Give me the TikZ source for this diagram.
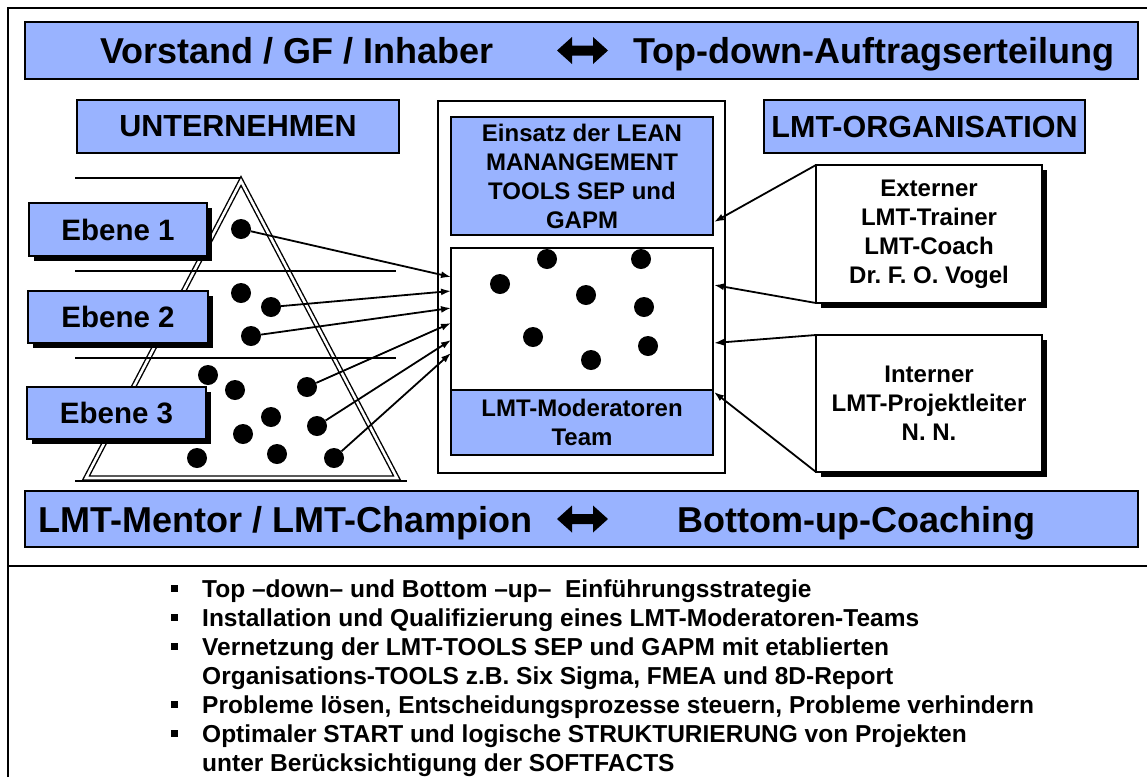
\documentclass[tikz,border=0pt]{standalone}
\usepackage{fontspec}
\setmainfont{Liberation Sans}
\usetikzlibrary{arrows.meta,shadows}
\definecolor{lmtblue}{RGB}{153,179,255}
\begin{document}
\frenchspacing
\begin{tikzpicture}[x=1pt,y=-1pt,line join=miter,
  bluebox/.style={draw=black,line width=2pt,fill=lmtblue,inner sep=0pt,outer sep=0pt,align=center},
  whitebox/.style={draw=black,line width=2pt,fill=white,inner sep=0pt,outer sep=0pt,align=center},
  shadowed/.style={drop shadow={shadow xshift=5pt,shadow yshift=-5pt,fill=black,opacity=1}},
  bigtext/.style={font=\fontsize{36}{40}\selectfont\bfseries},
  midtext/.style={font=\fontsize{30.5}{35}\selectfont\bfseries},
  leveltext/.style={font=\fontsize{29.5}{34}\selectfont\bfseries},
  boxtext/.style={font=\fontsize{24}{29}\selectfont\bfseries},
  listtext/.style={font=\fontsize{24.5}{29}\selectfont\bfseries,inner sep=0pt,anchor=base west},
  bulletsq/.style={fill=black,rectangle,minimum size=7pt,inner sep=0pt},
  dot/.style={circle,fill=black,minimum size=20pt,inner sep=0pt},
  arr/.style={line width=1.8pt,-{Latex[length=10pt,width=7pt]}},
  level/.style={line width=1.5pt},
  frame/.style={line width=2.5pt}]
\useasboundingbox (0,0) rectangle (1147,777);

% outer frame and separator
\draw[frame] (8,777) -- (8,8) -- (1147,8);
\draw[frame] (8,566) -- (1147,566);

% header banner
\node[bluebox,minimum width=1113pt,minimum height=57pt] (top) at (581.5,50.5) {};
\node[bigtext,anchor=base west,inner sep=0pt] (vorstand) at (100,63.5) {Vorstand / GF / Inhaber};
\node[bigtext,anchor=base west,inner sep=0pt] (topdown) at (633,63.5) {Top-down-Auftragserteilung};
\fill (557,50.5) -- (572,37) -- (572,45.5) -- (593,45.5) -- (593,37) -- (608,50.5)
      -- (593,64) -- (593,55.5) -- (572,55.5) -- (572,64) -- cycle;

% footer banner
\node[bluebox,minimum width=1113pt,minimum height=56pt] (bottom) at (581.5,519) {};
\node[bigtext,anchor=base west,inner sep=0pt] (mentor) at (38,532) {LMT-Mentor / LMT-Champion};
\node[bigtext,anchor=base west,inner sep=0pt] (coaching) at (677,532) {Bottom-up-Coaching};
\fill (557,519) -- (572,505.5) -- (572,514) -- (593,514) -- (593,505.5) -- (608,519)
      -- (593,532.5) -- (593,524) -- (572,524) -- (572,532.5) -- cycle;

% section titles
\node[bluebox,midtext,minimum width=322pt,minimum height=53pt] (unternehmen) at (238,126.5) {UNTERNEHMEN};
\node[bluebox,midtext,minimum width=321pt,minimum height=53pt] (lmtorg) at (924.5,126.5) {LMT-ORGANISATION};

% pyramid with levels
\draw[level] (75,178) -- (241,178);
\draw[line width=1.4pt,double=white,double distance=2.6pt] (241,181) -- (86,478) -- (397,478) -- cycle;
\draw[line width=1.6pt] (75,481) -- (407,481);
\draw[level] (75,271) -- (396,271);
\draw[level] (75,358) -- (396,358);

\node[bluebox,shadowed,leveltext,minimum width=178pt,minimum height=53pt] (e1) at (118,229.5) {Ebene 1};
\node[bluebox,shadowed,leveltext,minimum width=180pt,minimum height=52pt] (e2) at (118,317) {Ebene 2};
\node[bluebox,shadowed,leveltext,minimum width=179pt,minimum height=52pt] (e3) at (116.5,413) {Ebene 3};

% members of the company
\node[dot] (p1) at (241,229) {};
\node[dot] (p2) at (241,293) {};
\node[dot] (p3) at (271,307) {};
\node[dot] (p4) at (251,336) {};
\node[dot] (p5) at (208,375) {};
\node[dot] (p6) at (235,390) {};
\node[dot] (p7) at (307,387) {};
\node[dot] (p8) at (271,417) {};
\node[dot] (p9) at (317,426) {};
\node[dot] (p10) at (243,434) {};
\node[dot] (p11) at (197,458) {};
\node[dot] (p12) at (277,454) {};
\node[dot] (p13) at (334,458) {};

% LMT centre
\node[whitebox,minimum width=287pt,minimum height=372pt] (centre) at (581.5,287) {};
\node[bluebox,boxtext,minimum width=262pt,minimum height=118pt] (lean) at (582,176)
  {Einsatz der LEAN\\MANANGEMENT\\TOOLS SEP und\\GAPM};
\node[whitebox,minimum width=262pt,minimum height=142pt] (pool) at (582,319) {};
\node[bluebox,boxtext,minimum width=262pt,minimum height=65pt] (team) at (582,422.5)
  {LMT-Moderatoren\\Team};

\node[dot] (m1) at (547,259) {};
\node[dot] (m2) at (641,259) {};
\node[dot] (m3) at (500,284) {};
\node[dot] (m4) at (586,295) {};
\node[dot] (m5) at (644,307) {};
\node[dot] (m6) at (533,337) {};
\node[dot] (m7) at (648,346) {};
\node[dot] (m8) at (591,360) {};

% trainers
\node[whitebox,shadowed,boxtext,minimum width=226pt,minimum height=138pt] (ext) at (929,234)
  {Externer\\LMT-Trainer\\LMT-Coach\\Dr. F. O. Vogel};
\node[whitebox,shadowed,boxtext,minimum width=226pt,minimum height=137pt] (int) at (929,403.5)
  {Interner\\LMT-Projektleiter\\N. N.};

% arrow targets on the centre boxes
\coordinate (l1) at (451,277);
\coordinate (l2) at (451,291);
\coordinate (l3) at (451,308);
\coordinate (l4) at (451,323);
\coordinate (l5) at (451,340);
\coordinate (l6) at (451,353);
\coordinate (r1) at (714,222);
\coordinate (r2) at (714,285);
\coordinate (r3) at (714,343);
\coordinate (r4) at (714,392);

\draw[arr] (p1) -- (l1);
\draw[arr] (p3) -- (l2);
\draw[arr] (p4) -- (l3);
\draw[arr] (p7) -- (l4);
\draw[arr] (p9) -- (l5);
\draw[arr] (p13) -- (l6);

\draw[arr] (ext.north west) -- (r1);
\draw[arr] (ext.south west) -- (r2);
\draw[arr] (int.north west) -- (r3);
\draw[arr] (int.south west) -- (r4);

% key points
\node[bulletsq] (s1) at (174,588) {};
\node[bulletsq] (s2) at (174,617) {};
\node[bulletsq] (s3) at (174,646) {};
\node[bulletsq] (s5) at (174,704) {};
\node[bulletsq] (s6) at (174,733) {};
\node[listtext] (k1) at (202,597) {Top –down– und Bottom –up–\ \ Einführungsstrategie};
\node[listtext] (k2) at (202,626) {Installation und Qualifizierung eines LMT-Moderatoren-Teams};
\node[listtext] (k3) at (202,655) {Vernetzung der LMT-TOOLS SEP und GAPM mit etablierten};
\node[listtext] (k4) at (202,684) {Organisations-TOOLS z.B. Six Sigma, FMEA und 8D-Report};
\node[listtext] (k5) at (202,713) {Probleme lösen, Entscheidungsprozesse steuern, Probleme verhindern};
\node[listtext] (k6) at (202,742) {Optimaler START und logische STRUKTURIERUNG von Projekten};
\node[listtext] (k7) at (202,771) {unter Berücksichtigung der SOFTFACTS};
\end{tikzpicture}
\end{document}
